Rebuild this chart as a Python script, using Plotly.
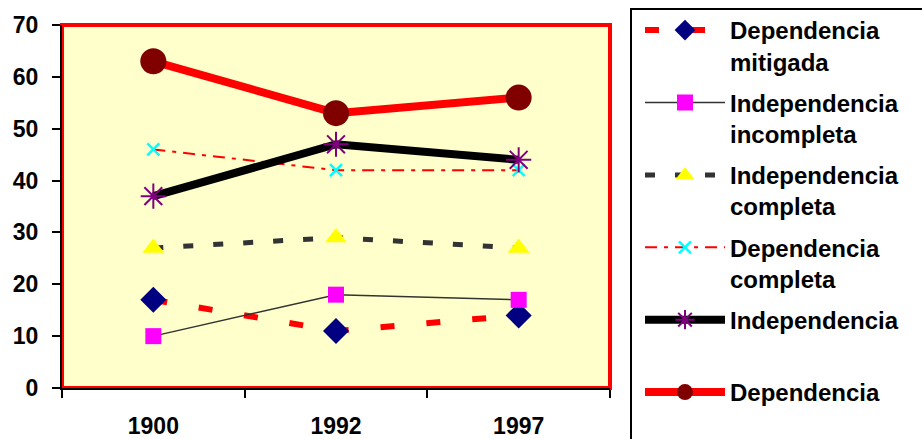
import plotly.graph_objects as go

years = ["1900", "1992", "1997"]
dep_mitigada = [17, 11, 14]
indep_incompleta = [10, 18, 17]
indep_completa = [27, 29, 27]
dep_completa = [46, 42, 42]
independencia = [37, 47, 44]
dependencia = [63, 53, 56]

names = ["Dependencia<br>mitigada", "Independencia<br>incompleta", "Independencia<br>completa",
         "Dependencia<br>completa", "Independencia<br>&nbsp;", "Dependencia<br>&nbsp;"]

W, H = 922, 439
L, R, T, B = 62, 312, 25, 51
pw, ph = W - L - R, H - T - B

def px2x(p):
    return (p - L) / pw

def py2y(p):
    return (H - B - p) / ph

fig = go.Figure()
fig.add_trace(go.Scatter(x=years, y=dep_mitigada, name=names[0], mode="lines+markers", legendgroup="a",
                         line=dict(color="#FF0000", width=6, dash="14px,32px"),
                         marker=dict(symbol="diamond", size=20, color="#000080")))
fig.add_trace(go.Scatter(x=years, y=indep_incompleta, name=names[1], mode="lines+markers", legendgroup="b",
                         line=dict(color="#333333", width=1.5),
                         marker=dict(symbol="square", size=16, color="#FF00FF")))
fig.add_trace(go.Scatter(x=years, y=indep_completa, name=names[2], mode="lines+markers", legendgroup="c",
                         line=dict(color="#333333", width=5, dash="10px,20px"),
                         marker=dict(symbol="triangle-up", size=19, color="#FFFF00")))
fig.add_trace(go.Scatter(x=years, y=dep_completa, name=names[3], mode="lines+markers", legendgroup="d",
                         line=dict(color="#FF0000", width=2, dash="12px,7px,4px,7px"),
                         marker=dict(symbol="x-thin-open", size=12, color="#00FFFF",
                                     line=dict(width=2.5, color="#00FFFF"))))
fig.add_trace(go.Scatter(x=years, y=independencia, name=names[4], mode="lines+markers", legendgroup="e",
                         line=dict(color="#000000", width=8),
                         marker=dict(symbol="asterisk-open", size=21, color="#800080",
                                     line=dict(width=2, color="#800080"))))
fig.add_trace(go.Scatter(x=years, y=dependencia, name=names[5], mode="lines+markers", legendgroup="f",
                         line=dict(color="#FF0000", width=8),
                         marker=dict(symbol="circle", size=26, color="#800000")))

font_family = "Liberation Sans, Arial, sans-serif"

fig.update_layout(
    width=W, height=H,
    margin=dict(l=L, r=R, t=T, b=B, autoexpand=False),
    paper_bgcolor="white",
    plot_bgcolor="#FFFFCC",
    font=dict(family=font_family, size=23, color="black", weight="bold"),
    legend=dict(
        x=px2x(640), y=py2y(8), xanchor="left", yanchor="top",
        xref="paper", yref="paper",
        font=dict(family=font_family, size=24, color="black", weight="bold"),
        bgcolor="rgba(0,0,0,0)", borderwidth=0,
        valign="top", tracegroupgap=7, itemwidth=80, maxheight=1000,
    ),
    xaxis=dict(
        type="category", range=[-0.5, 2.5], showgrid=False, zeroline=False, automargin=False,
        showline=True, linecolor="black", linewidth=2,
        ticks="outside", ticklen=8, tickwidth=2, tickcolor="black",
        tickson="boundaries", ticklabelstandoff=16,
        tickfont=dict(family=font_family, size=23, color="black", weight="bold"),
    ),
    yaxis=dict(
        range=[0, 70], dtick=10, showgrid=False, zeroline=False, automargin=False,
        showline=True, linecolor="black", linewidth=2,
        ticks="outside", ticklen=8, tickwidth=2, tickcolor="black",
        ticklabelstandoff=9,
        tickfont=dict(family=font_family, size=23, color="black", weight="bold"),
    ),
    shapes=[
        dict(type="rect", xref="paper", yref="paper", x0=0, x1=1, y0=0, y1=1,
             line=dict(color="#FF0000", width=4), layer="below"),
        dict(type="rect", xref="paper", yref="paper",
             x0=px2x(631), x1=px2x(960), y0=py2y(470), y1=py2y(9),
             line=dict(color="black", width=2)),
    ],
)

fig.write_html("out.html", config={"displayModeBar": False},
               post_script="document.body.style.margin='0px';document.body.style.overflow='hidden';")
